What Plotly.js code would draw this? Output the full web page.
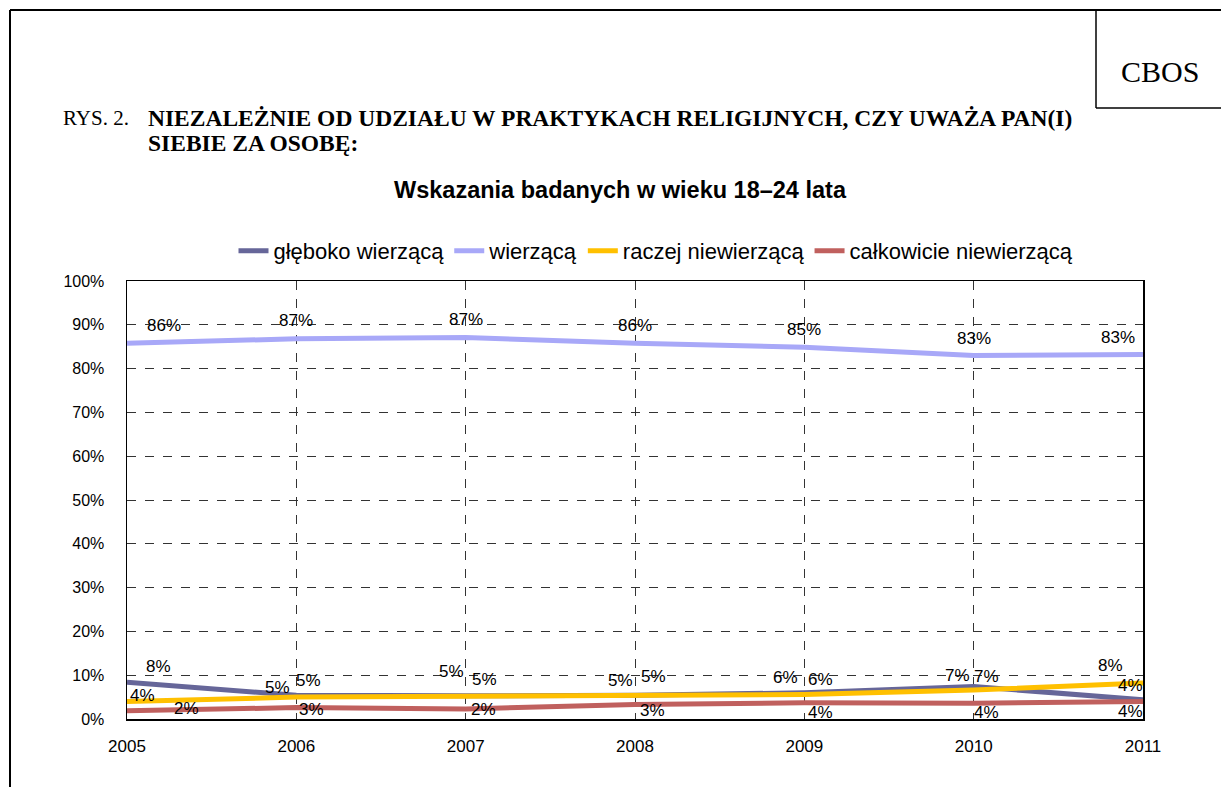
<!DOCTYPE html>
<html>
<head>
<meta charset="utf-8">
<script src="https://cdn.plot.ly/plotly-3.0.1.min.js"></script>
<style>
html,body{margin:0;padding:0;background:#fff;}
#chart{width:1221px;height:787px;}
</style>
</head>
<body>
<div id="chart"></div>
<script>
// ---- data ----
const years = [2005, 2006, 2007, 2008, 2009, 2010, 2011];
const seriesNames = ["głęboko wierzącą", "wierzącą", "raczej niewierzącą", "całkowicie niewierzącą"];
const gleboko = [8.4, 5.4, 5.3, 5.4, 6.0, 7.4, 4.4];
const wierzaca = [85.8, 86.8, 87.1, 85.8, 84.9, 83.0, 83.2];
const raczej = [4.0, 5.0, 5.2, 5.3, 5.6, 6.6, 8.2];
const calkowicie = [1.9, 2.6, 2.3, 3.3, 3.7, 3.6, 4.0];
const yTicks = [0, 10, 20, 30, 40, 50, 60, 70, 80, 90, 100];

// ---- style ----
const colors = ["#666699", "#A8A8F8", "#FFC000", "#C0605E"];
const sans = "Liberation Sans, Arial, sans-serif";
const serif = "Liberation Serif, Times New Roman, serif";

// label offsets (pixels) for each series
const offsets = [
  {dx:[31,-19,-14,-15,-19,-16,-13], dy:[16,8,24,15,15,11,14]},
  {dx:[37,0,0,0,0,0,-25], dy:[18,18,18,18,18,17,17]},
  {dx:[15,12,19,18,16,13,-33], dy:[6,17,17,19,15,14,18]},
  {dx:[59,15,18,17,16,13,-13], dy:[2,-2,-1,-6,-10,-9,-10]}
];

const allSeries = [gleboko, wierzaca, raczej, calkowicie];

// plot area in pixels: left 127, right 1143, top 281, bottom 719
const L = 127, R = 1143, T = 281, B = 719;
const px = x => (x - L) / (R - L);
const py = y => (B - y) / (B - T);

const traces = allSeries.map((vals, k) => ({
  x: years, y: vals, type: "scatter", mode: "lines",
  name: seriesNames[k],
  line: {color: colors[k], width: 5},
  hoverinfo: "skip"
}));

const annotations = [];
allSeries.forEach((vals, k) => {
  vals.forEach((v, i) => {
    annotations.push({
      x: years[i], y: v, xref: "x", yref: "y",
      text: Math.round(v) + "%", showarrow: false,
      xshift: offsets[k].dx[i], yshift: offsets[k].dy[i],
      font: {family: sans, size: 17, color: "#000"}
    });
  });
});

// headings
annotations.push(
  {xref:"paper", yref:"paper", x:px(1160), y:py(72), text:"CBOS", showarrow:false,
   xanchor:"center", yanchor:"middle", font:{family:serif, size:30, color:"#000"}},
  {xref:"paper", yref:"paper", x:px(61), y:py(118), text:"RYS. 2.", showarrow:false,
   xanchor:"left", yanchor:"middle", font:{family:serif, size:21, color:"#000"}},
  {xref:"paper", yref:"paper", x:px(146), y:py(118),
   text:"<b>NIEZALEŻNIE OD UDZIAŁU W PRAKTYKACH RELIGIJNYCH, CZY UWAŻA PAN(I)</b>", showarrow:false,
   xanchor:"left", yanchor:"middle", font:{family:serif, size:23.5, color:"#000"}},
  {xref:"paper", yref:"paper", x:px(146), y:py(143),
   text:"<b>SIEBIE ZA OSOBĘ:</b>", showarrow:false,
   xanchor:"left", yanchor:"middle", font:{family:serif, size:23.5, color:"#000"}}
);

const shapes = [
  // outer frame
  {type:"line", xref:"paper", yref:"paper", x0:px(10), x1:px(1225), y0:py(10), y1:py(10), line:{color:"#000", width:2}},
  {type:"line", xref:"paper", yref:"paper", x0:px(10), x1:px(10), y0:py(10), y1:py(790), line:{color:"#000", width:2}},
  // CBOS box
  {type:"line", xref:"paper", yref:"paper", x0:px(1096), x1:px(1096), y0:py(10), y1:py(108), line:{color:"#000", width:1.5}},
  {type:"line", xref:"paper", yref:"paper", x0:px(1096), x1:px(1225), y0:py(108), y1:py(108), line:{color:"#000", width:1.5}}
];

const layout = {
  width: 1221, height: 787,
  margin: {l: L, r: 1221 - R, t: T, b: 787 - B, pad: 0},
  paper_bgcolor: "#fff", plot_bgcolor: "#fff",
  title: {text: "<b>Wskazania badanych w wieku 18–24 lata</b>",
          x: px(620), xanchor: "center", xref: "paper",
          y: 1 - 190/787, yanchor: "middle", yref: "container",
          font: {family: sans, size: 23.5, color: "#000"}},
  showlegend: true,
  legend: {orientation: "h", x: px(656), xanchor: "center", y: py(251), yanchor: "middle",
           font: {family: sans, size: 22, color: "#000"}, itemwidth: 30, tracegroupgap: 0},
  xaxis: {
    range: [years[0], years[years.length - 1]], tickvals: years, ticktext: years.map(String),
    showgrid: true, gridcolor: "#333", griddash: "dash", gridwidth: 1,
    showline: true, linecolor: "#000", linewidth: 1.5, mirror: true,
    zeroline: false, ticks: "", ticklabelstandoff: 11,
    tickfont: {family: sans, size: 17, color: "#000"}, fixedrange: true
  },
  yaxis: {
    range: [0, 100], tickvals: yTicks, ticktext: yTicks.map(v => v + "%"),
    showgrid: true, gridcolor: "#333", griddash: "dash", gridwidth: 1,
    showline: true, linecolor: "#000", linewidth: 1.5, mirror: true,
    zeroline: false, ticks: "", ticklabelstandoff: 18,
    tickfont: {family: sans, size: 16, color: "#000"}, fixedrange: true
  },
  annotations: annotations,
  shapes: shapes
};

Plotly.newPlot("chart", traces, layout, {displayModeBar: false, staticPlot: true});
</script>
</body>
</html>
